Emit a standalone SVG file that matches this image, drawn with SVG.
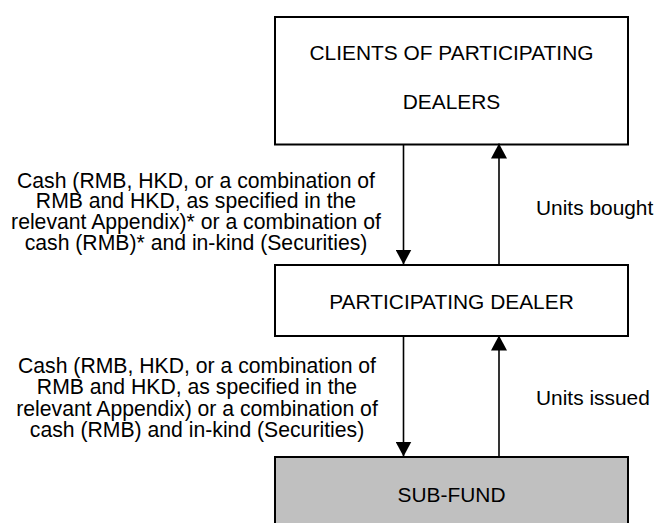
<svg xmlns="http://www.w3.org/2000/svg" width="658" height="523" viewBox="0 0 658 523">
<style>
  .box { fill: #ffffff; stroke: #000000; stroke-width: 2; }
  .fund { fill: #c0c0c0; stroke: #000000; stroke-width: 2; }
  .t { font-family: "Liberation Sans", Arial, sans-serif; font-size: 20.9px; fill: #000000; }
  .l { font-family: "Liberation Sans", Arial, sans-serif; font-size: 21.2px; fill: #000000; text-anchor: middle; }
  .c { text-anchor: middle; }
  .conn { stroke: #000000; stroke-width: 1.6; fill: none; }
</style>
<defs>
  <marker id="ah" viewBox="0 0 15 16" refX="15" refY="8" markerWidth="15" markerHeight="16" markerUnits="userSpaceOnUse" orient="auto">
    <path d="M0,0 L15,8 L0,16 Z" fill="#000000"/>
  </marker>
</defs>
<rect width="658" height="523" fill="#ffffff"/>
<g id="clients">
  <rect class="box" x="275" y="17" width="353" height="127.5"/>
  <text class="t c" x="451.5" y="60">CLIENTS OF PARTICIPATING</text>
  <text class="t c" x="451.5" y="108.5">DEALERS</text>
</g>
<g id="dealer">
  <rect class="box" x="275" y="265" width="353" height="71"/>
  <text class="t c" x="451.5" y="309">PARTICIPATING DEALER</text>
</g>
<g id="subfund">
  <rect class="fund" x="275" y="457" width="353" height="80"/>
  <text class="t c" x="451.5" y="501.5">SUB-FUND</text>
</g>
<g id="connectors">
  <line class="conn" x1="403.5" y1="145" x2="403.5" y2="264.5" marker-end="url(#ah)"/>
  <line class="conn" x1="499" y1="264" x2="499" y2="143.5" marker-end="url(#ah)"/>
  <line class="conn" x1="403.5" y1="337" x2="403.5" y2="456.5" marker-end="url(#ah)"/>
  <line class="conn" x1="499" y1="456" x2="499" y2="335.5" marker-end="url(#ah)"/>
</g>
<g id="labels">
  <text class="l"><tspan x="196" y="187.5">Cash (RMB, HKD, or a combination of</tspan><tspan x="196" y="208.3">RMB and HKD, as specified in the</tspan><tspan x="196" y="229">relevant Appendix)* or a combination of</tspan><tspan x="196" y="249.5">cash (RMB)* and in-kind (Securities)</tspan></text>
  <text class="t" x="536" y="215">Units bought</text>
  <text class="l"><tspan x="197" y="372.5">Cash (RMB, HKD, or a combination of</tspan><tspan x="197" y="394">RMB and HKD, as specified in the</tspan><tspan x="197" y="415.5">relevant Appendix) or a combination of</tspan><tspan x="197" y="436.8">cash (RMB) and in-kind (Securities)</tspan></text>
  <text class="t" x="536" y="405">Units issued</text>
</g>
</svg>
